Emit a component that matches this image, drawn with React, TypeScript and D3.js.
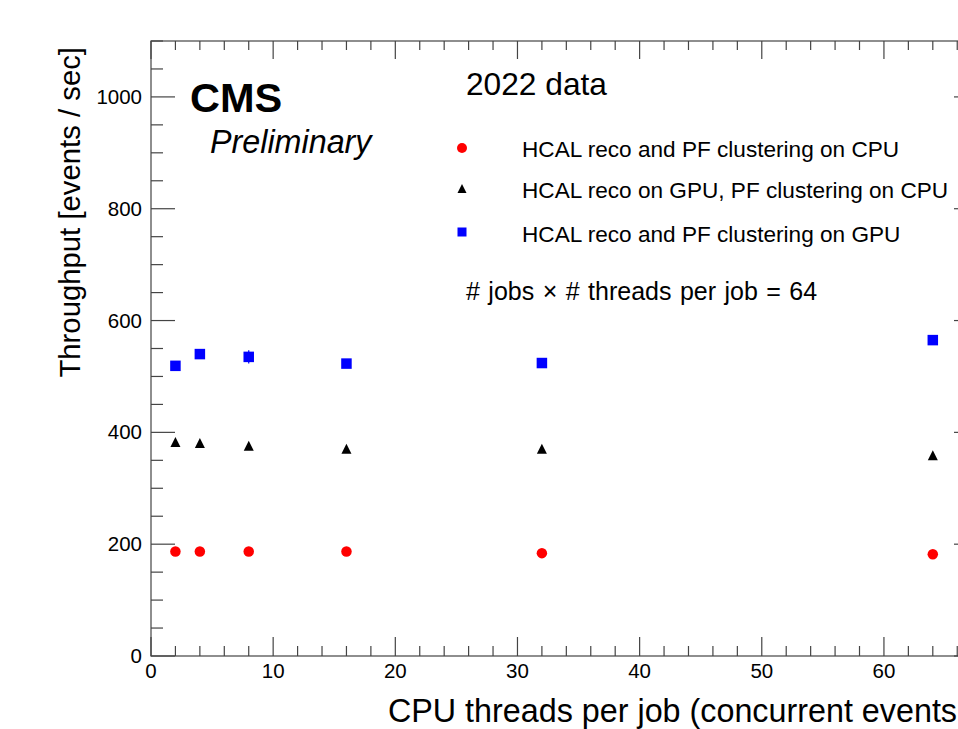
import React from "react";
import * as d3 from "d3";

const threads = [2, 4, 8, 16, 32, 64];
const cpuOnly = [187, 187, 187, 187, 184, 182];
const cpuOnlyErr = [2, 2, 2, 2, 2, 2];
const recoGpu = [382, 380, 375, 370, 370, 358];
const recoGpuErr = [2, 2, 2, 2, 2, 2];
const allGpu = [519, 540, 535, 523, 524, 565];
const allGpuErr = [3, 3, 12, 3, 3, 3];
const xTickLabels = [0, 10, 20, 30, 40, 50, 60];
const yTickLabels = [0, 200, 400, 600, 800, 1000];
const legendLabels = [
  "HCAL reco and PF clustering on CPU",
  "HCAL reco on GPU, PF clustering on CPU",
  "HCAL reco and PF clustering on GPU",
];

const W = 958;
const H = 729;
const FONT = "'Liberation Sans', Arial, Helvetica, sans-serif";

export default function App() {
  const left = 151, right = 978, top = 41, bottom = 656;
  const x = d3.scaleLinear().domain([0, 67.7]).range([left, right]);
  const y = d3.scaleLinear().domain([0, 1100]).range([bottom, top]);

  const xMinor = d3.range(0, 68, 2).filter((v) => v % 10 !== 0);
  const xMajor = d3.range(0, 68, 10);
  const yMinor = d3.range(0, 1101, 50).filter((v) => v % 200 !== 0);
  const yMajor = d3.range(0, 1101, 200);
  const axisColor = "#444";

  const tri = (cx: number, cy: number, s: number) =>
    `M${cx},${cy - s * 0.55}L${cx + s / 2},${cy + s * 0.45}L${cx - s / 2},${cy + s * 0.45}Z`;

  const series = [
    { vals: cpuOnly, errs: cpuOnlyErr, color: "#ff0000", shape: "circle" },
    { vals: recoGpu, errs: recoGpuErr, color: "#000000", shape: "triangle" },
    { vals: allGpu, errs: allGpuErr, color: "#0000ff", shape: "square" },
  ];

  const marker = (shape: string, cx: number, cy: number, s: number, color: string, key: string) => {
    if (shape === "circle") return <circle key={key} cx={cx} cy={cy} r={s / 2} fill={color} />;
    if (shape === "triangle") return <path key={key} d={tri(cx, cy, s)} fill={color} />;
    return <rect key={key} x={cx - s / 2} y={cy - s / 2} width={s} height={s} fill={color} />;
  };

  const legendY = [148, 189, 232];
  const legendBase = [156.7, 198.3, 241.7];

  return (
    <svg
      width={W}
      height={H}
      style={{ position: "absolute", left: 0, top: 0, background: "#fff" }}
      fontFamily={FONT}
    >
      <rect x={0} y={0} width={W} height={H} fill="#fff" />
      {/* frame */}
      <rect x={left} y={top} width={right - left} height={bottom - top} fill="none" stroke={axisColor} strokeWidth={1.2} />
      {/* x ticks */}
      {xMajor.map((v) => (
        <g key={"xM" + v}>
          <line x1={x(v)} x2={x(v)} y1={bottom} y2={bottom - 19} stroke={axisColor} strokeWidth={1.2} />
          <line x1={x(v)} x2={x(v)} y1={top} y2={top + 18} stroke={axisColor} strokeWidth={1.2} />
        </g>
      ))}
      {xMinor.map((v) => (
        <g key={"xm" + v}>
          <line x1={x(v)} x2={x(v)} y1={bottom} y2={bottom - 10} stroke={axisColor} strokeWidth={1.2} />
          <line x1={x(v)} x2={x(v)} y1={top} y2={top + 9} stroke={axisColor} strokeWidth={1.2} />
        </g>
      ))}
      {/* y ticks */}
      {yMajor.map((v) => (
        <g key={"yM" + v}>
          <line x1={left} x2={left + 24} y1={y(v)} y2={y(v)} stroke={axisColor} strokeWidth={1.2} />
          <line x1={right} x2={right - 24} y1={y(v)} y2={y(v)} stroke={axisColor} strokeWidth={1.2} />
        </g>
      ))}
      {yMinor.map((v) => (
        <g key={"ym" + v}>
          <line x1={left} x2={left + 12} y1={y(v)} y2={y(v)} stroke={axisColor} strokeWidth={1.2} />
          <line x1={right} x2={right - 12} y1={y(v)} y2={y(v)} stroke={axisColor} strokeWidth={1.2} />
        </g>
      ))}
      {/* tick labels */}
      {xTickLabels.map((v) => (
        <text key={"xl" + v} x={x(v)} y={678} textAnchor="middle" fontSize={20.5} fill="#000">
          {v}
        </text>
      ))}
      {yTickLabels.map((v) => (
        <text key={"yl" + v} x={142} y={y(v) + 7} textAnchor="end" fontSize={20.5} fill="#000">
          {v}
        </text>
      ))}
      {/* axis titles */}
      <text x={957} y={722} textAnchor="end" fontSize={32.3} fill="#000">
        CPU threads per job (concurrent events
      </text>
      <text transform={`translate(80,47) rotate(-90)`} textAnchor="end" fontSize={29.3} fill="#000">
        Throughput [events / sec]
      </text>
      {/* CMS labels */}
      <text x={190} y={111.7} fontSize={41.5} fontWeight="bold" fill="#000">
        CMS
      </text>
      <text x={210} y={152.7} fontSize={32.3} fontStyle="italic" fill="#000">
        Preliminary
      </text>
      <text x={466} y={95} fontSize={31.7} fill="#000">
        2022 data
      </text>
      {/* legend */}
      {series.map((s, i) => (
        <g key={"leg" + i}>
          {marker(s.shape, 462, legendY[i], s.shape === "circle" ? 10 : 9, s.color, "lm" + i)}
          <text x={522} y={legendBase[i]} fontSize={22.6} fill="#000">
            {legendLabels[i]}
          </text>
        </g>
      ))}
      <text x={466} y={300} fontSize={25} wordSpacing={1.5} fill="#000">
        # jobs × # threads per job = 64
      </text>
      {/* data */}
      {series.map((s, si) => (
        <g key={"s" + si}>
          {threads.map((t, i) => (
            <line
              key={"e" + i}
              x1={x(t)}
              x2={x(t)}
              y1={y(s.vals[i] - s.errs[i])}
              y2={y(s.vals[i] + s.errs[i])}
              stroke={s.color}
              strokeWidth={1.2}
            />
          ))}
          {threads.map((t, i) =>
            marker(s.shape, x(t), y(s.vals[i]), s.shape === "triangle" ? 10 : 10.5, s.color, "m" + i)
          )}
        </g>
      ))}
    </svg>
  );
}
